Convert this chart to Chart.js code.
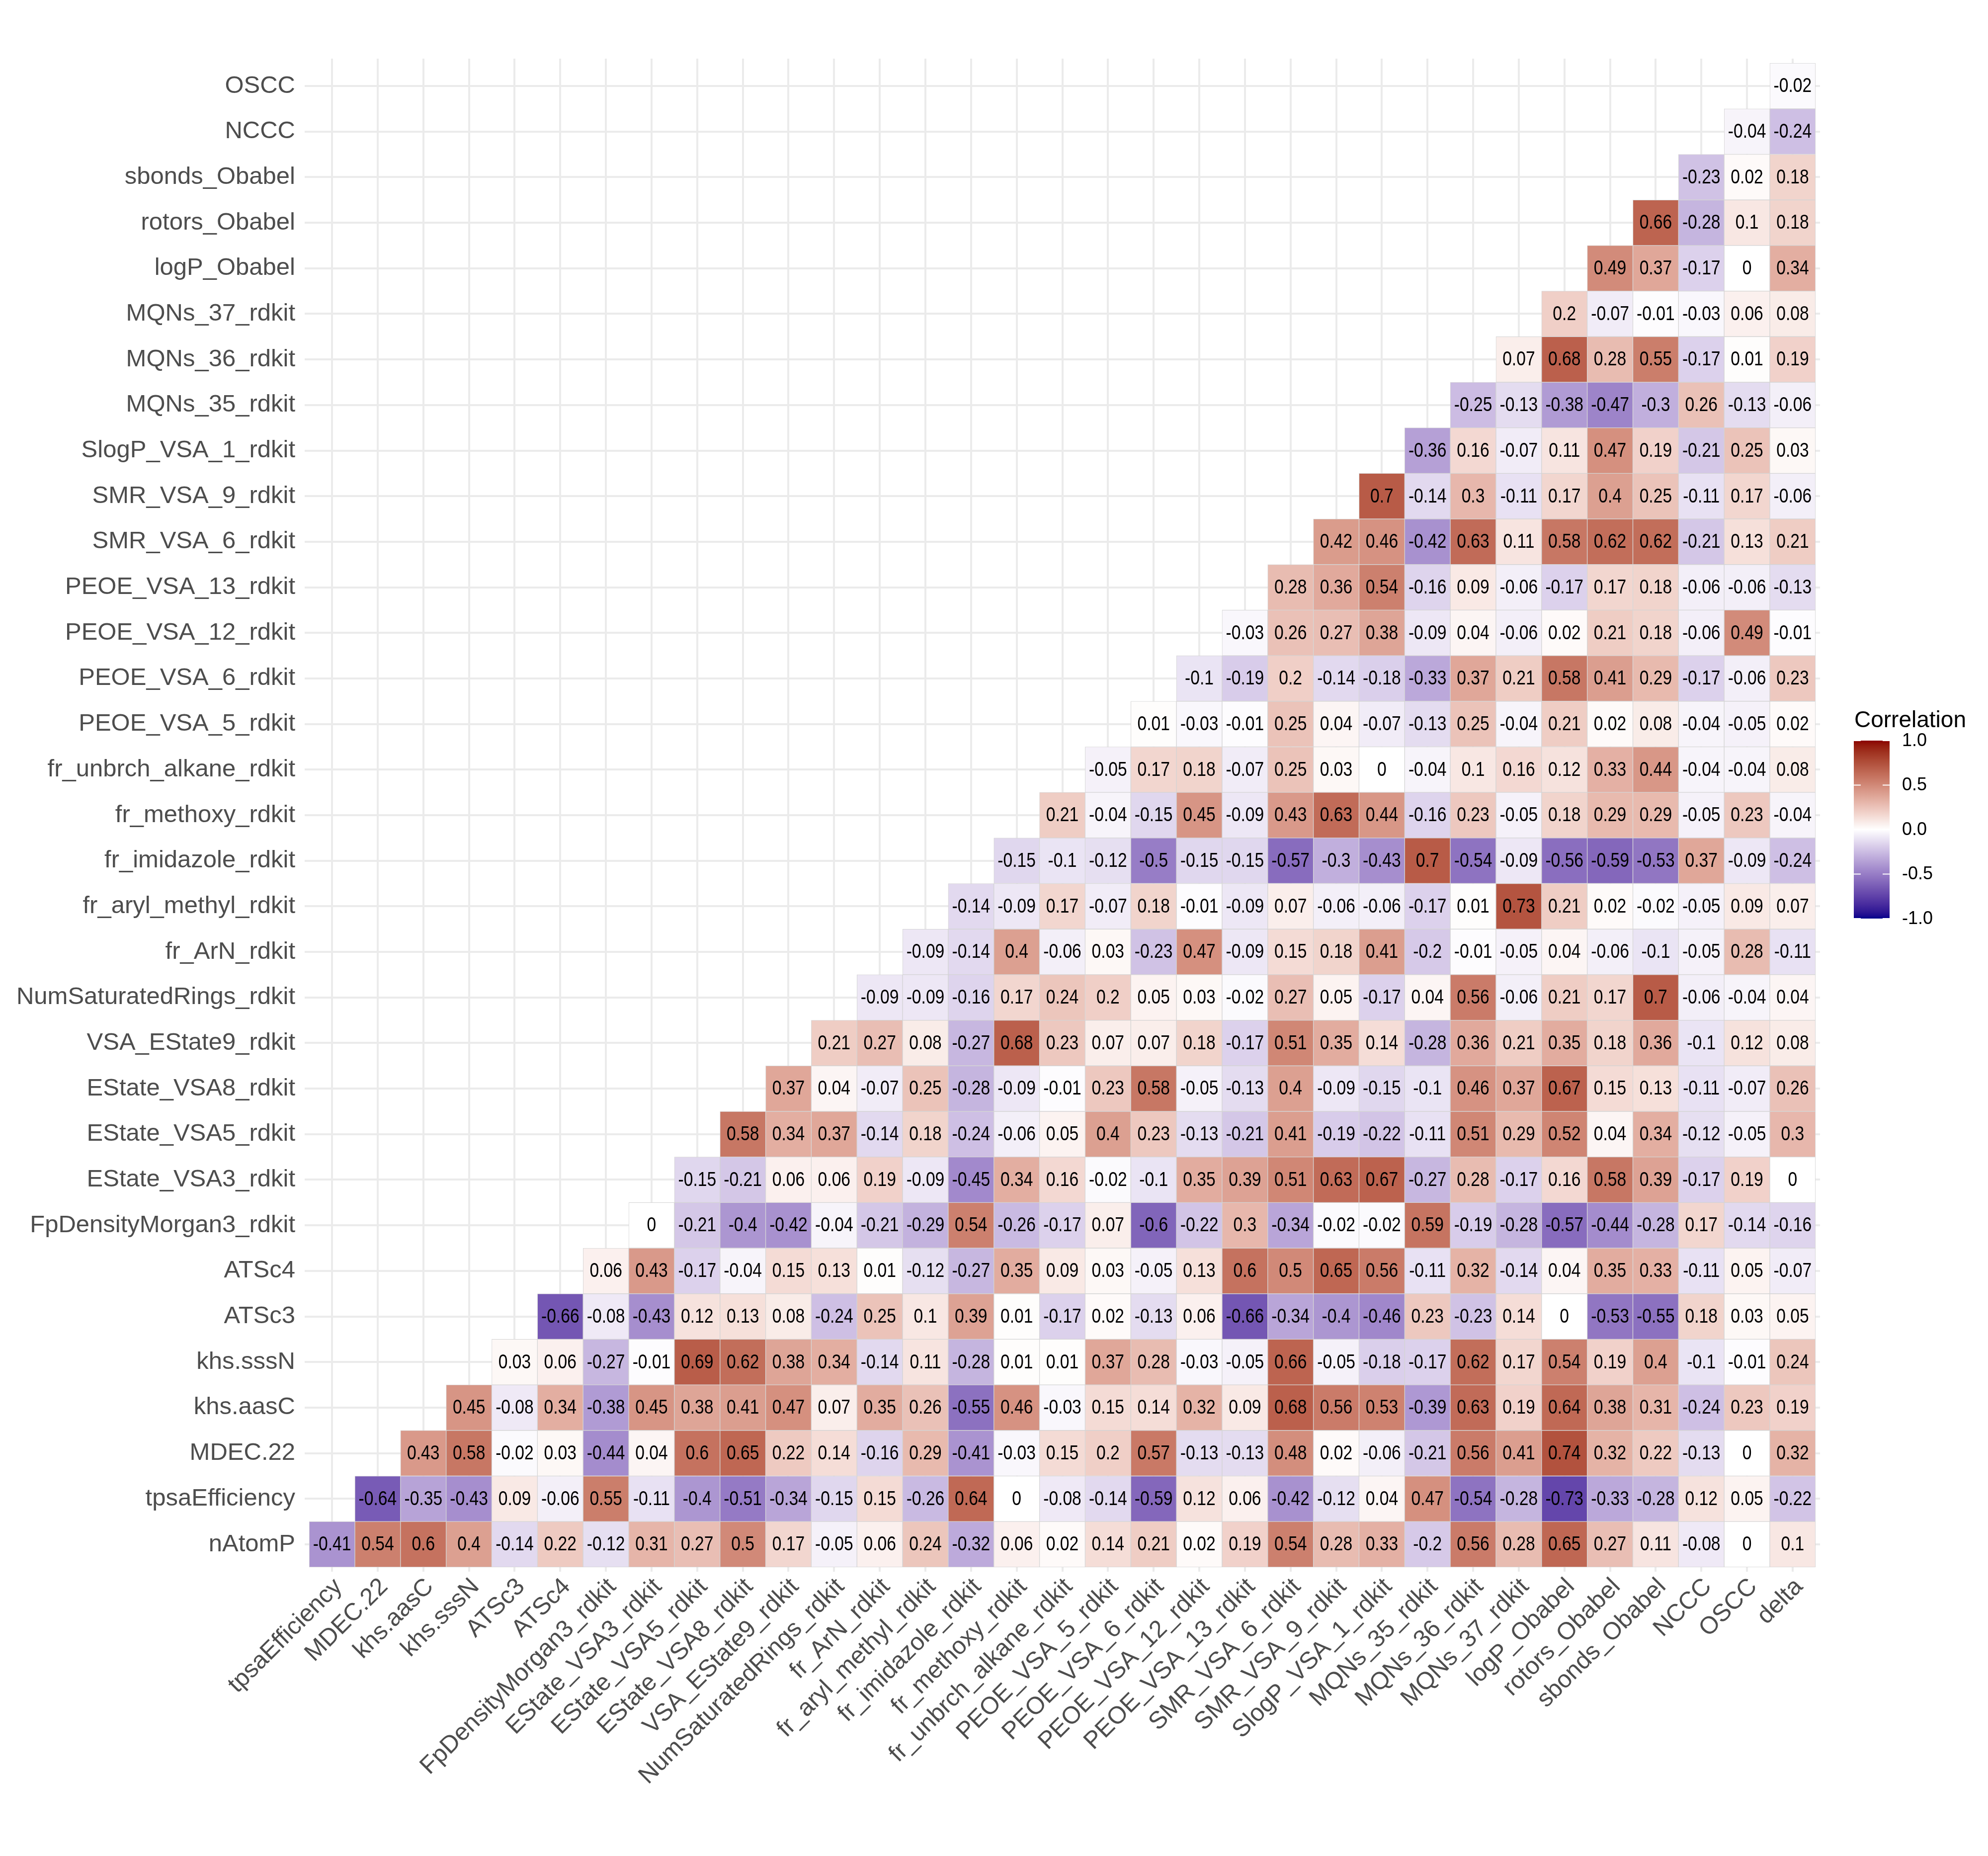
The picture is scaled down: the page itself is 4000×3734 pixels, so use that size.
<!DOCTYPE html>
<html>
<head>
<meta charset="utf-8">
<script src="https://cdn.jsdelivr.net/npm/chart.js@4.4.0/dist/chart.umd.min.js"></script>
<style>
  html, body { margin: 0; padding: 0; background: #ffffff; }
  canvas { display: block; }
</style>
</head>
<body>
<canvas id="c" width="4000" height="3734"></canvas>
<script>
// ---------------- DATA ----------------
// x-axis categories (left to right)
const columns = ['tpsaEfficiency','MDEC.22','khs.aasC','khs.sssN','ATSc3','ATSc4','FpDensityMorgan3_rdkit','EState_VSA3_rdkit','EState_VSA5_rdkit','EState_VSA8_rdkit','VSA_EState9_rdkit','NumSaturatedRings_rdkit','fr_ArN_rdkit','fr_aryl_methyl_rdkit','fr_imidazole_rdkit','fr_methoxy_rdkit','fr_unbrch_alkane_rdkit','PEOE_VSA_5_rdkit','PEOE_VSA_6_rdkit','PEOE_VSA_12_rdkit','PEOE_VSA_13_rdkit','SMR_VSA_6_rdkit','SMR_VSA_9_rdkit','SlogP_VSA_1_rdkit','MQNs_35_rdkit','MQNs_36_rdkit','MQNs_37_rdkit','logP_Obabel','rotors_Obabel','sbonds_Obabel','NCCC','OSCC','delta'];

// y-axis categories (bottom to top)
const rows = ['nAtomP','tpsaEfficiency','MDEC.22','khs.aasC','khs.sssN','ATSc3','ATSc4','FpDensityMorgan3_rdkit','EState_VSA3_rdkit','EState_VSA5_rdkit','EState_VSA8_rdkit','VSA_EState9_rdkit','NumSaturatedRings_rdkit','fr_ArN_rdkit','fr_aryl_methyl_rdkit','fr_imidazole_rdkit','fr_methoxy_rdkit','fr_unbrch_alkane_rdkit','PEOE_VSA_5_rdkit','PEOE_VSA_6_rdkit','PEOE_VSA_12_rdkit','PEOE_VSA_13_rdkit','SMR_VSA_6_rdkit','SMR_VSA_9_rdkit','SlogP_VSA_1_rdkit','MQNs_35_rdkit','MQNs_36_rdkit','MQNs_37_rdkit','logP_Obabel','rotors_Obabel','sbonds_Obabel','NCCC','OSCC'];

// Correlation values per row; row i starts at column i (lower triangle)
const v_nAtomP = [-0.41,0.54,0.6,0.4,-0.14,0.22,-0.12,0.31,0.27,0.5,0.17,-0.05,0.06,0.24,-0.32,0.06,0.02,0.14,0.21,0.02,0.19,0.54,0.28,0.33,-0.2,0.56,0.28,0.65,0.27,0.11,-0.08,0,0.1];
const v_tpsaEfficiency = [-0.64,-0.35,-0.43,0.09,-0.06,0.55,-0.11,-0.4,-0.51,-0.34,-0.15,0.15,-0.26,0.64,0,-0.08,-0.14,-0.59,0.12,0.06,-0.42,-0.12,0.04,0.47,-0.54,-0.28,-0.73,-0.33,-0.28,0.12,0.05,-0.22];
const v_MDEC22 = [0.43,0.58,-0.02,0.03,-0.44,0.04,0.6,0.65,0.22,0.14,-0.16,0.29,-0.41,-0.03,0.15,0.2,0.57,-0.13,-0.13,0.48,0.02,-0.06,-0.21,0.56,0.41,0.74,0.32,0.22,-0.13,0,0.32];
const v_khs_aasC = [0.45,-0.08,0.34,-0.38,0.45,0.38,0.41,0.47,0.07,0.35,0.26,-0.55,0.46,-0.03,0.15,0.14,0.32,0.09,0.68,0.56,0.53,-0.39,0.63,0.19,0.64,0.38,0.31,-0.24,0.23,0.19];
const v_khs_sssN = [0.03,0.06,-0.27,-0.01,0.69,0.62,0.38,0.34,-0.14,0.11,-0.28,0.01,0.01,0.37,0.28,-0.03,-0.05,0.66,-0.05,-0.18,-0.17,0.62,0.17,0.54,0.19,0.4,-0.1,-0.01,0.24];
const v_ATSc3 = [-0.66,-0.08,-0.43,0.12,0.13,0.08,-0.24,0.25,0.1,0.39,0.01,-0.17,0.02,-0.13,0.06,-0.66,-0.34,-0.4,-0.46,0.23,-0.23,0.14,0,-0.53,-0.55,0.18,0.03,0.05];
const v_ATSc4 = [0.06,0.43,-0.17,-0.04,0.15,0.13,0.01,-0.12,-0.27,0.35,0.09,0.03,-0.05,0.13,0.6,0.5,0.65,0.56,-0.11,0.32,-0.14,0.04,0.35,0.33,-0.11,0.05,-0.07];
const v_FpDensityMorgan3 = [0,-0.21,-0.4,-0.42,-0.04,-0.21,-0.29,0.54,-0.26,-0.17,0.07,-0.6,-0.22,0.3,-0.34,-0.02,-0.02,0.59,-0.19,-0.28,-0.57,-0.44,-0.28,0.17,-0.14,-0.16];
const v_EState_VSA3 = [-0.15,-0.21,0.06,0.06,0.19,-0.09,-0.45,0.34,0.16,-0.02,-0.1,0.35,0.39,0.51,0.63,0.67,-0.27,0.28,-0.17,0.16,0.58,0.39,-0.17,0.19,0];
const v_EState_VSA5 = [0.58,0.34,0.37,-0.14,0.18,-0.24,-0.06,0.05,0.4,0.23,-0.13,-0.21,0.41,-0.19,-0.22,-0.11,0.51,0.29,0.52,0.04,0.34,-0.12,-0.05,0.3];
const v_EState_VSA8 = [0.37,0.04,-0.07,0.25,-0.28,-0.09,-0.01,0.23,0.58,-0.05,-0.13,0.4,-0.09,-0.15,-0.1,0.46,0.37,0.67,0.15,0.13,-0.11,-0.07,0.26];
const v_VSA_EState9 = [0.21,0.27,0.08,-0.27,0.68,0.23,0.07,0.07,0.18,-0.17,0.51,0.35,0.14,-0.28,0.36,0.21,0.35,0.18,0.36,-0.1,0.12,0.08];
const v_NumSaturatedRings = [-0.09,-0.09,-0.16,0.17,0.24,0.2,0.05,0.03,-0.02,0.27,0.05,-0.17,0.04,0.56,-0.06,0.21,0.17,0.7,-0.06,-0.04,0.04];
const v_fr_ArN = [-0.09,-0.14,0.4,-0.06,0.03,-0.23,0.47,-0.09,0.15,0.18,0.41,-0.2,-0.01,-0.05,0.04,-0.06,-0.1,-0.05,0.28,-0.11];
const v_fr_aryl_methyl = [-0.14,-0.09,0.17,-0.07,0.18,-0.01,-0.09,0.07,-0.06,-0.06,-0.17,0.01,0.73,0.21,0.02,-0.02,-0.05,0.09,0.07];
const v_fr_imidazole = [-0.15,-0.1,-0.12,-0.5,-0.15,-0.15,-0.57,-0.3,-0.43,0.7,-0.54,-0.09,-0.56,-0.59,-0.53,0.37,-0.09,-0.24];
const v_fr_methoxy = [0.21,-0.04,-0.15,0.45,-0.09,0.43,0.63,0.44,-0.16,0.23,-0.05,0.18,0.29,0.29,-0.05,0.23,-0.04];
const v_fr_unbrch_alkane = [-0.05,0.17,0.18,-0.07,0.25,0.03,0,-0.04,0.1,0.16,0.12,0.33,0.44,-0.04,-0.04,0.08];
const v_PEOE_VSA_5 = [0.01,-0.03,-0.01,0.25,0.04,-0.07,-0.13,0.25,-0.04,0.21,0.02,0.08,-0.04,-0.05,0.02];
const v_PEOE_VSA_6 = [-0.1,-0.19,0.2,-0.14,-0.18,-0.33,0.37,0.21,0.58,0.41,0.29,-0.17,-0.06,0.23];
const v_PEOE_VSA_12 = [-0.03,0.26,0.27,0.38,-0.09,0.04,-0.06,0.02,0.21,0.18,-0.06,0.49,-0.01];
const v_PEOE_VSA_13 = [0.28,0.36,0.54,-0.16,0.09,-0.06,-0.17,0.17,0.18,-0.06,-0.06,-0.13];
const v_SMR_VSA_6 = [0.42,0.46,-0.42,0.63,0.11,0.58,0.62,0.62,-0.21,0.13,0.21];
const v_SMR_VSA_9 = [0.7,-0.14,0.3,-0.11,0.17,0.4,0.25,-0.11,0.17,-0.06];
const v_SlogP_VSA_1 = [-0.36,0.16,-0.07,0.11,0.47,0.19,-0.21,0.25,0.03];
const v_MQNs_35 = [-0.25,-0.13,-0.38,-0.47,-0.3,0.26,-0.13,-0.06];
const v_MQNs_36 = [0.07,0.68,0.28,0.55,-0.17,0.01,0.19];
const v_MQNs_37 = [0.2,-0.07,-0.01,-0.03,0.06,0.08];
const v_logP_Obabel = [0.49,0.37,-0.17,0,0.34];
const v_rotors_Obabel = [0.66,-0.28,0.1,0.18];
const v_sbonds_Obabel = [-0.23,0.02,0.18];
const v_NCCC = [-0.04,-0.24];
const v_OSCC = [-0.02];

const rowValues = [v_nAtomP, v_tpsaEfficiency, v_MDEC22, v_khs_aasC, v_khs_sssN, v_ATSc3, v_ATSc4,
  v_FpDensityMorgan3, v_EState_VSA3, v_EState_VSA5, v_EState_VSA8, v_VSA_EState9, v_NumSaturatedRings,
  v_fr_ArN, v_fr_aryl_methyl, v_fr_imidazole, v_fr_methoxy, v_fr_unbrch_alkane, v_PEOE_VSA_5, v_PEOE_VSA_6,
  v_PEOE_VSA_12, v_PEOE_VSA_13, v_SMR_VSA_6, v_SMR_VSA_9, v_SlogP_VSA_1, v_MQNs_35, v_MQNs_36, v_MQNs_37,
  v_logP_Obabel, v_rotors_Obabel, v_sbonds_Obabel, v_NCCC, v_OSCC];

const legendTitle = 'Correlation';
const legendTicks = [1.0, 0.5, 0.0, -0.5, -1.0];

// ---------------- COLOUR SCALE (gradient2 in CIELAB) ----------------
const HIGH = [139, 0, 0];   // darkred
const MID = [255, 255, 255];
const LOW = [0, 0, 139];    // darkblue
function lin(c) { c /= 255; return c <= 0.04045 ? c / 12.92 : Math.pow((c + 0.055) / 1.055, 2.4); }
function delin(c) { const v = c <= 0.0031308 ? 12.92 * c : 1.055 * Math.pow(c, 1 / 2.4) - 0.055; return Math.max(0, Math.min(255, Math.round(v * 255))); }
const XN = 0.95047, YN = 1.0, ZN = 1.08883;
function rgb2lab(rgb) {
  const R = lin(rgb[0]), G = lin(rgb[1]), B = lin(rgb[2]);
  const X = (0.4124564 * R + 0.3575761 * G + 0.1804375 * B) / XN;
  const Y = (0.2126729 * R + 0.7151522 * G + 0.0721750 * B) / YN;
  const Z = (0.0193339 * R + 0.1191920 * G + 0.9503041 * B) / ZN;
  const f = t => t > 216 / 24389 ? Math.cbrt(t) : (24389 / 27 * t + 16) / 116;
  const fx = f(X), fy = f(Y), fz = f(Z);
  return [116 * fy - 16, 500 * (fx - fy), 200 * (fy - fz)];
}
function lab2rgb(lab) {
  const fy = (lab[0] + 16) / 116, fx = fy + lab[1] / 500, fz = fy - lab[2] / 200;
  const finv = t => { const t3 = t * t * t; return t3 > 216 / 24389 ? t3 : (116 * t - 16) / (24389 / 27); };
  const X = finv(fx) * XN, Y = finv(fy) * YN, Z = finv(fz) * ZN;
  const R = 3.2404542 * X - 1.5371385 * Y - 0.4985314 * Z;
  const G = -0.9692660 * X + 1.8760108 * Y + 0.0415560 * Z;
  const B = 0.0556434 * X - 0.2040259 * Y + 1.0572252 * Z;
  return [delin(R), delin(G), delin(B)];
}
const LAB_H = rgb2lab(HIGH), LAB_M = rgb2lab(MID), LAB_L = rgb2lab(LOW);
function colorFor(v) {
  const t = Math.min(1, Math.abs(v));
  const end = v >= 0 ? LAB_H : LAB_L;
  const lab = [0, 1, 2].map(i => LAB_M[i] + (end[i] - LAB_M[i]) * t);
  const c = lab2rgb(lab);
  return `rgb(${c[0]},${c[1]},${c[2]})`;
}

// ---------------- DATASETS ----------------
const datasets = rows.map((name, r) => ({
  label: name,
  data: rowValues[r].map((v, k) => ({ x: r + k, y: [r - 0.5, r + 0.5], v: v })),
  backgroundColor: rowValues[r].map(colorFor),
  borderColor: '#D4D4D4',
  borderWidth: 1,
  borderSkipped: false,
  grouped: false,
  barPercentage: 1.0,
  categoryPercentage: 1.0
}));

// ---------------- PLUGINS ----------------
const whiteBg = {
  id: 'whiteBg',
  beforeDraw(chart) {
    const ctx = chart.ctx;
    ctx.save();
    ctx.fillStyle = '#ffffff';
    ctx.fillRect(0, 0, chart.width, chart.height);
    ctx.restore();
  }
};

const cellLabels = {
  id: 'cellLabels',
  afterDatasetsDraw(chart) {
    const ctx = chart.ctx;
    ctx.save();
    ctx.fillStyle = '#000000';
    ctx.font = '41px "Liberation Sans", Arial, sans-serif';
    ctx.textAlign = 'center';
    ctx.textBaseline = 'middle';
    chart.data.datasets.forEach((ds, di) => {
      const meta = chart.getDatasetMeta(di);
      meta.data.forEach((el, i) => {
        const v = ds.data[i].v;
        const cx = el.x, cy = (el.y + el.base) / 2;
        ctx.save();
        ctx.translate(cx, cy + 1);
        ctx.scale(0.82, 1);
        ctx.fillText(String(v), 0, 0);
        ctx.restore();
      });
    });
    ctx.restore();
  }
};

const colorBar = {
  id: 'colorBar',
  afterDraw(chart) {
    const ctx = chart.ctx;
    const bx = 3730, by = 1490, bw = 72, bh = 358;
    ctx.save();
    // title
    ctx.fillStyle = '#000000';
    ctx.font = '46px "Liberation Sans", Arial, sans-serif';
    ctx.textAlign = 'left';
    ctx.textBaseline = 'alphabetic';
    ctx.fillText(legendTitle, 3731, 1463);
    // gradient
    const g = ctx.createLinearGradient(0, by, 0, by + bh);
    const n = 60;
    for (let i = 0; i <= n; i++) {
      const v = 1 - 2 * i / n;
      g.addColorStop(i / n, colorFor(v));
    }
    ctx.fillStyle = g;
    ctx.fillRect(bx, by, bw, bh);
    // ticks and labels
    const ypos = v => by + (1 - v) / 2 * bh;
    ctx.strokeStyle = '#ffffff';
    ctx.lineWidth = 2;
    ctx.font = '36px "Liberation Sans", Arial, sans-serif';
    ctx.textBaseline = 'middle';
    legendTicks.forEach(v => {
      const y = ypos(v);
      ctx.beginPath();
      ctx.moveTo(bx, y); ctx.lineTo(bx + 14, y);
      ctx.moveTo(bx + bw - 14, y); ctx.lineTo(bx + bw, y);
      ctx.stroke();
      ctx.fillStyle = '#000000';
      ctx.fillText(v.toFixed(1), 3827, y + 1);
    });
    ctx.restore();
  }
};

// ---------------- CHART ----------------
const axisFont = { family: '"Liberation Sans", Arial, sans-serif', size: 49 };
new Chart(document.getElementById('c'), {
  type: 'bar',
  data: { datasets: datasets },
  options: {
    responsive: false,
    animation: false,
    devicePixelRatio: 1,
    layout: { padding: { top: 118, right: 338, bottom: 0, left: 0 } },
    plugins: { legend: { display: false }, tooltip: { enabled: false }, title: { display: false } },
    scales: {
      x: {
        type: 'linear',
        min: -0.6, max: 32.6,
        offset: false,
        afterBuildTicks: s => { s.ticks = columns.map((_, i) => ({ value: i })); },
        afterFit: s => { s.height = 572; },
        ticks: {
          autoSkip: false, minRotation: 45, maxRotation: 45,
          padding: 2, labelOffset: 13,
          color: '#4D4D4D', font: axisFont,
          callback: v => columns[v]
        },
        grid: { color: '#EBEBEB', lineWidth: 4, drawTicks: false, offset: false },
        border: { display: false }
      },
      y: {
        type: 'linear',
        min: -0.6, max: 32.6,
        beginAtZero: false,
        afterBuildTicks: s => { s.ticks = rows.map((_, i) => ({ value: i })); },
        afterFit: s => { s.width = 613; },
        ticks: {
          autoSkip: false, padding: 19,
          color: '#4D4D4D', font: axisFont,
          callback: v => rows[v]
        },
        grid: { color: '#EBEBEB', lineWidth: 4, drawTicks: false, offset: false },
        border: { display: false }
      }
    }
  },
  plugins: [whiteBg, cellLabels, colorBar]
});
</script>
</body>
</html>
